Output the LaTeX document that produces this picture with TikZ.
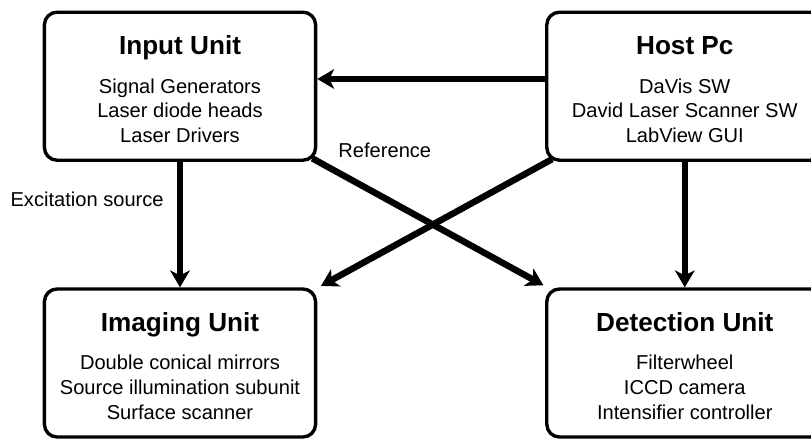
\documentclass[tikz,border=0pt]{standalone}
\usepackage{fontspec}
\setmainfont{Liberation Sans}
\usetikzlibrary{arrows.meta,positioning}

\tikzset{
  unit/.style={draw, fill=white, line width=2.4pt, rounded corners=9pt,
    minimum width=6.78cm, minimum height=3.7cm, align=center,
    font=\fontsize{14.3}{17.6}\selectfont},
  wideunit/.style={unit, minimum width=6.9cm},
  link/.style={line width=4.6pt, -{Stealth[length=12pt, width=14pt, inset=3.5pt]}},
  linklabel/.style={font=\fontsize{14.3}{17.6}\selectfont}
}
\newcommand{\unittitle}[1]{{\fontsize{18.6}{22}\selectfont\bfseries\rule{0pt}{17.5pt}#1}}

\begin{document}
\begin{tikzpicture}
  \useasboundingbox (0,0) rectangle (20.275,11.025);

  \node[unit] (input) at (4.5,8.87) {\unittitle{Input Unit}\\[10pt]
    Signal Generators\\ Laser diode heads\\ Laser Drivers};
  \node[wideunit] (host) at (17.12,8.87) {\unittitle{Host Pc}\\[10pt]
    DaVis SW\\ David Laser Scanner SW\\ LabView GUI};
  \node[unit] (imaging) at (4.5,1.95) {\unittitle{Imaging Unit}\\[10pt]
    Double conical mirrors\\ Source illumination subunit\\ Surface scanner};
  \node[wideunit] (detection) at (17.12,1.95) {\unittitle{Detection Unit}\\[10pt]
    Filterwheel\\ ICCD camera\\ Intensifier controller};

  \draw[link] ([yshift=0.18cm]host.west) -- ([yshift=0.18cm]input.east);
  \draw[link] (input) -- (imaging) node[pos=0.3, left=6pt, linklabel] (excite) {Excitation source};
  \draw[link] (host) -- (detection);
  \draw[link, shorten <=-4pt, shorten >=3pt] (input) -- (detection);
  \draw[link, shorten <=-4pt, shorten >=3pt] (host) -- (imaging);

  \node[linklabel] (reftext) at (9.62,7.27) {Reference};
\end{tikzpicture}
\end{document}
